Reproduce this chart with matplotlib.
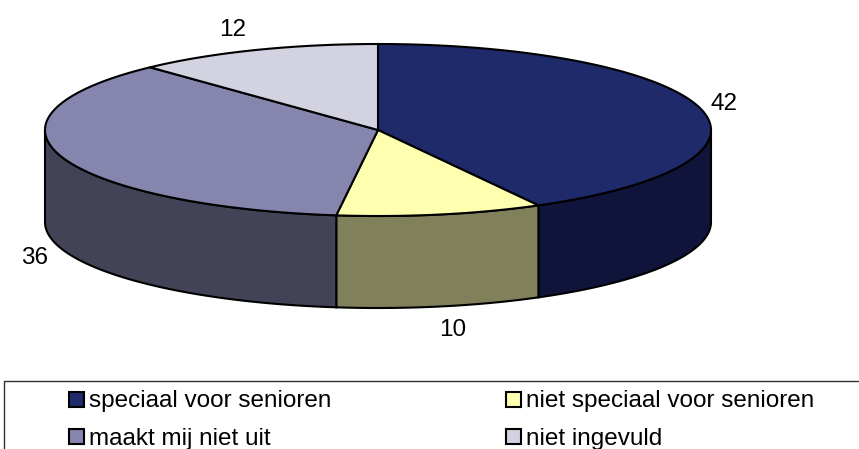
import numpy as np
import matplotlib
matplotlib.use("Agg")
import matplotlib.pyplot as plt
from matplotlib.patches import Polygon, Rectangle

plt.rcParams['font.family'] = ['Liberation Sans', 'DejaVu Sans']

labels = ['speciaal voor senioren', 'niet speciaal voor senioren', 'maakt mij niet uit', 'niet ingevuld']
values = [42, 10, 36, 12]
top_colors = ['#1f2a6b', '#ffffb0', '#8585ad', '#d2d2e1']
side_colors = ['#10143a', '#80805a', '#434357', '#d2d2e1']

W, H = 859, 449
fig = plt.figure(figsize=(W / 100, H / 100), dpi=100)
ax = fig.add_axes([0, 0, 1, 1])
ax.set_xlim(0, W)
ax.set_ylim(H, 0)
ax.axis('off')

# pie geometry in pixels
cx, cy = 378, 130
rx, ry = 333, 86
depth = 92
line_w = 1.5
font_size = 17.5


def rim(a0, a1, n=200):
    t = np.radians(np.linspace(a0, a1, n))
    return cx + rx * np.sin(t), cy - ry * np.cos(t)


# angles clockwise from twelve o'clock
edges = np.concatenate([[0], np.cumsum(values)]) / sum(values) * 360

# side wall, only the front half is visible
for i in range(len(values)):
    a0, a1 = max(edges[i], 90), min(edges[i + 1], 270)
    if a1 <= a0:
        continue
    x, y = rim(a0, a1)
    pts = np.vstack([np.c_[x, y], np.c_[x, y + depth][::-1]])
    ax.add_patch(Polygon(pts, closed=True, fc=side_colors[i], ec='black', lw=line_w, zorder=2))

# top face
for i in range(len(values)):
    x, y = rim(edges[i], edges[i + 1])
    pts = np.vstack([[cx, cy], np.c_[x, y]])
    ax.add_patch(Polygon(pts, closed=True, fc=top_colors[i], ec='black', lw=line_w, zorder=3))

# value labels
value_pos = [(724, 104), (453, 330), (35, 258), (233, 30)]
for v, (px, py) in zip(values, value_pos):
    ax.text(px, py, str(v), fontsize=font_size, ha='center', va='center', color='black')

# legend box, open on the right and at the bottom
ax.plot([859, 4, 4], [381, 381, 449], color='#303030', lw=1, zorder=4)

legend_pos = [(69, 400), (506, 400), (69, 437), (506, 437)]
for (px, py), lab, col in zip(legend_pos, labels, top_colors):
    ax.add_patch(Rectangle((px, py - 8), 15, 15, fc=col, ec='black', lw=line_w, zorder=5))
    ax.text(px + 20, py + 1.5, lab, fontsize=font_size, ha='left', va='center', color='black', zorder=5)

fig.savefig('out.png', dpi=100)
